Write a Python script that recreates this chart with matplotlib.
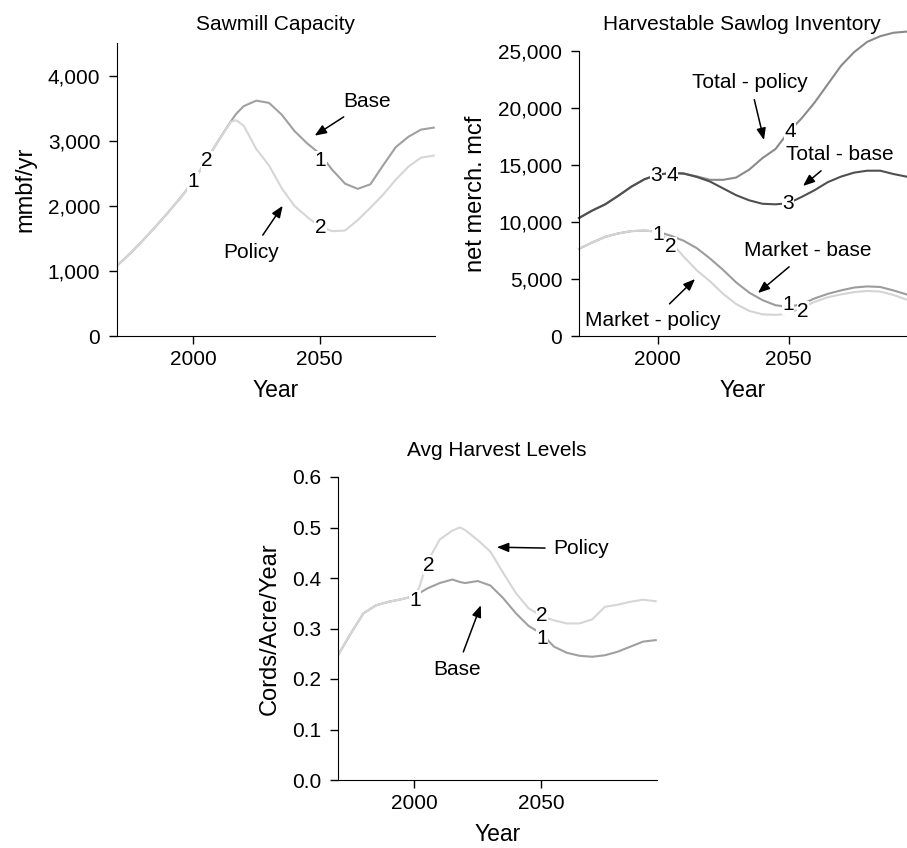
import matplotlib
matplotlib.use("Agg")
import matplotlib.pyplot as plt

plt.rcParams['font.family'] = ['Liberation Sans', 'DejaVu Sans']

# Sawmill Capacity (mmbf/yr)
yrs_saw = [1970, 1975, 1980, 1985, 1990, 1995, 2000, 2005, 2010, 2015, 2017, 2020, 2025,
           2030, 2035, 2040, 2045, 2050, 2055, 2060, 2065, 2070, 2075, 2080, 2085, 2090, 2095]
base_saw = [1080, 1260, 1460, 1670, 1890, 2120, 2370, 2680, 3000, 3300, 3410, 3530, 3615,
            3580, 3400, 3150, 2960, 2800, 2550, 2340, 2260, 2330, 2620, 2900, 3060, 3170, 3200]
policy_saw = [1080, 1260, 1460, 1670, 1890, 2120, 2370, 2680, 3000, 3290, 3315, 3230, 2870,
              2620, 2270, 2000, 1830, 1680, 1610, 1620, 1780, 1970, 2170, 2400, 2600, 2740, 2770]

# Harvestable Sawlog Inventory (net merch. mcf)
yrs_inv = [1970, 1975, 1980, 1985, 1990, 1995, 2000, 2005, 2010, 2015, 2020, 2025, 2030,
           2035, 2040, 2045, 2050, 2055, 2060, 2065, 2070, 2075, 2080, 2085, 2090, 2095]
market_base = [7650, 8200, 8700, 9000, 9200, 9250, 9150, 8800, 8350, 7700, 6800, 5800, 4700,
               3800, 3150, 2700, 2550, 2800, 3300, 3700, 4000, 4250, 4350, 4300, 4000, 3650]
market_policy = [7650, 8200, 8700, 9000, 9200, 9250, 9150, 8300, 6950, 5750, 4800, 3700, 2800,
                 2200, 1900, 1850, 1950, 2500, 3000, 3400, 3650, 3850, 3950, 3900, 3600, 3200]
total_base = [10350, 11000, 11550, 12300, 13100, 13750, 14150, 14300, 14250, 13950, 13550, 12950,
              12350, 11900, 11600, 11550, 11650, 12200, 12800, 13500, 13980, 14330, 14500, 14500,
              14210, 13980]
total_policy = [10350, 11000, 11550, 12300, 13100, 13750, 14150, 14300, 14250, 14000, 13700, 13700,
                13900, 14600, 15600, 16400, 17900, 19100, 20500, 22100, 23700, 24900, 25800, 26300,
                26600, 26700]

# Avg Harvest Levels (cords/acre/year)
yrs_h = [1970, 1975, 1980, 1985, 1990, 1995, 2000, 2002, 2005, 2010, 2015, 2018, 2020, 2025, 2030,
         2035, 2040, 2045, 2050, 2055, 2060, 2065, 2070, 2075, 2080, 2085, 2090, 2095]
base_h = [0.247, 0.29, 0.33, 0.346, 0.353, 0.358, 0.364, 0.37, 0.379, 0.39, 0.397, 0.392, 0.39,
          0.394, 0.385, 0.36, 0.33, 0.305, 0.29, 0.264, 0.252, 0.246, 0.244, 0.247, 0.254, 0.264,
          0.274, 0.277]
policy_h = [0.247, 0.29, 0.33, 0.346, 0.353, 0.358, 0.364, 0.382, 0.43, 0.476, 0.494, 0.50, 0.495,
            0.475, 0.452, 0.41, 0.37, 0.34, 0.325, 0.316, 0.31, 0.31, 0.318, 0.343, 0.347, 0.353,
            0.357, 0.354]

W, H = 907, 848
fig = plt.figure(figsize=(W / 100, H / 100), dpi=100)

FS = 15
LW = 1.5


def make_ax(l, r, b, t, ymax):
    ax = fig.add_axes([l / W, 1 - b / H, (r - l) / W, (b - t) / H])
    ax.set_xlim(1970, 2095.5)
    ax.set_ylim(0, ymax)
    for s in ['top', 'right']:
        ax.spines[s].set_visible(False)
    ax.set_xticks([2000, 2050])
    ax.tick_params(direction='out', length=6, width=1, labelsize=FS)
    ax.tick_params(axis='y', pad=6)
    ax.tick_params(axis='x', pad=4)
    ax.set_xlabel('Year', fontsize=16.5, labelpad=7)
    return ax


def num(ax, x, y, s):
    ax.text(x, y, s, fontsize=FS, ha='center', va='center',
            bbox=dict(facecolor='white', edgecolor='none', pad=0.3), zorder=5)


def arrow(ax, s, xytext, xy):
    ax.annotate(s, xy=xy, xytext=xytext, fontsize=FS, ha='center', va='center',
                arrowprops=dict(arrowstyle='-|>,head_length=0.5,head_width=0.2', color='black',
                                lw=1.1, mutation_scale=14, shrinkA=4, shrinkB=0), zorder=6)


fmt = matplotlib.ticker.FuncFormatter(lambda v, p: f'{int(v):,}')

# --- Sawmill Capacity ---
ax1 = make_ax(117, 435, 336, 43, 4500)
ax1.plot(yrs_saw, base_saw, color='#a0a0a0', lw=LW)
ax1.plot(yrs_saw, policy_saw, color='#d6d6d6', lw=LW)
ax1.set_yticks([0, 1000, 2000, 3000, 4000])
ax1.yaxis.set_major_formatter(fmt)
ax1.set_ylabel('mmbf/yr', fontsize=17, labelpad=8)
fig.text(276 / W, 1 - 24 / H, 'Sawmill Capacity', fontsize=FS, ha='center', va='center')
num(ax1, 2000, 2370, '1')
num(ax1, 2005.4, 2690, '2')
num(ax1, 2050.3, 2690, '1')
num(ax1, 2050.3, 1660, '2')
arrow(ax1, 'Base', (2068.8, 3600), (2048, 3077))
arrow(ax1, 'Policy', (2023, 1290), (2035.4, 2000))

# --- Harvestable Sawlog Inventory ---
ax2 = make_ax(579, 907, 336, 51, 25000)
ax2.set_xlim(1970, 2095.2)
ax2.spines['left'].set_bounds(0, 25000)
ax2.plot(yrs_inv, market_base, color='#9c9c9c', lw=LW, clip_on=False)
ax2.plot(yrs_inv, market_policy, color='#d4d4d4', lw=LW, clip_on=False)
ax2.plot(yrs_inv, total_policy, color='#8a8a8a', lw=LW, clip_on=False)
ax2.plot(yrs_inv, total_base, color='#505050', lw=LW, clip_on=False)
ax2.set_yticks([0, 5000, 10000, 15000, 20000, 25000])
ax2.yaxis.set_major_formatter(fmt)
ax2.set_ylabel('net merch. mcf', fontsize=17, labelpad=8)
fig.text(742 / W, 1 - 24 / H, 'Harvestable Sawlog Inventory', fontsize=FS, ha='center', va='center')
num(ax2, 1999.4, 14120, '3')
num(ax2, 2005.5, 14120, '4')
num(ax2, 2000.2, 8860, '1')
num(ax2, 2005.1, 7810, '2')
num(ax2, 2050.5, 17900, '4')
num(ax2, 2049.8, 11580, '3')
num(ax2, 2049.8, 2720, '1')
num(ax2, 2055.5, 2190, '2')
arrow(ax2, 'Total - policy', (2035.3, 22280), (2040.6, 17190))
arrow(ax2, 'Total - base', (2069.6, 15880), (2055.5, 13160))
arrow(ax2, 'Market - base', (2057.4, 7460), (2038.3, 3770))
arrow(ax2, 'Market - policy', (1998.2, 1400), (2014.3, 5000))

# --- Avg Harvest Levels ---
ax3 = make_ax(338, 657, 780, 477, 0.6)
ax3.plot(yrs_h, base_h, color='#a0a0a0', lw=LW)
ax3.plot(yrs_h, policy_h, color='#d6d6d6', lw=LW)
ax3.set_yticks([0, 0.1, 0.2, 0.3, 0.4, 0.5, 0.6])
ax3.yaxis.set_major_formatter(matplotlib.ticker.FormatStrFormatter('%.1f'))
ax3.set_ylabel('Cords/Acre/Year', fontsize=17, labelpad=8)
fig.text(497 / W, 1 - 450 / H, 'Avg Harvest Levels', fontsize=FS, ha='center', va='center')
num(ax3, 2005.8, 0.425, '2')
num(ax3, 2000.3, 0.356, '1')
num(ax3, 2050.3, 0.326, '2')
num(ax3, 2050.3, 0.28, '1')
arrow(ax3, 'Policy', (2065.7, 0.458), (2032.5, 0.461))
arrow(ax3, 'Base', (2016.7, 0.219), (2026.2, 0.346))

fig.savefig('out.png', dpi=100)
